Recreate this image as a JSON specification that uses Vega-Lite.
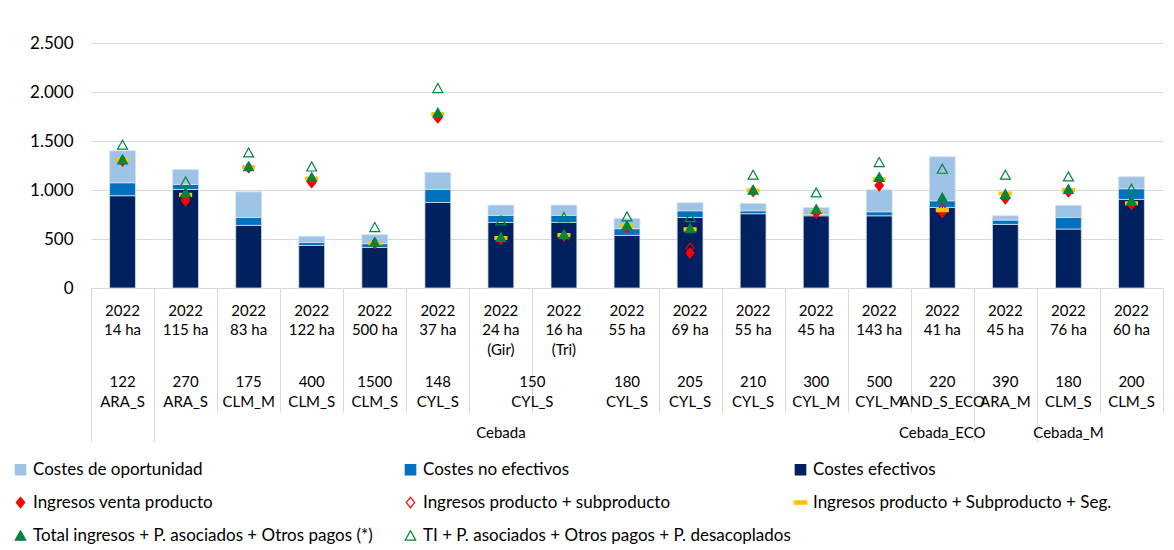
{
 "$schema": "https://vega.github.io/schema/vega-lite/v6.json",
 "width": 1072,
 "height": 245,
 "autosize": {"type": "none"},
 "padding": {"left": 91, "top": 43, "right": 11, "bottom": 262},
 "background": "white",
 "config": {
  "view": {"stroke": null},
  "axis": {"labelFont": "Lato", "labelColor": "#000000", "labelFontSize": 15, "titleFont": "Lato", "labelAngle": 0},
  "legend": {"orient": "none", "direction": "horizontal", "legendX": -79, "legendY": 418, "columns": 3, "gridAlign": "all", "columnPadding": 0, "rowPadding": 15, "labelFont": "Lato", "labelFontSize": 17, "labelColor": "#000000", "symbolSize": 110, "symbolStrokeWidth": 1.2, "labelOffset": 4, "padding": 0, "labelLimit": 500}
 },
 "datasets": {
  "costes": [
   {"cat": "2022|14 ha||122|ARA_S|Cebada", "serie": "Costes efectivos", "v": 942},
   {"cat": "2022|14 ha||122|ARA_S|Cebada", "serie": "Costes no efectivos", "v": 132},
   {"cat": "2022|14 ha||122|ARA_S|Cebada", "serie": "Costes de oportunidad", "v": 326},
   {"cat": "2022|115 ha||270|ARA_S|Cebada", "serie": "Costes efectivos", "v": 1006},
   {"cat": "2022|115 ha||270|ARA_S|Cebada", "serie": "Costes no efectivos", "v": 51},
   {"cat": "2022|115 ha||270|ARA_S|Cebada", "serie": "Costes de oportunidad", "v": 153},
   {"cat": "2022|83 ha||175|CLM_M|Cebada", "serie": "Costes efectivos", "v": 639},
   {"cat": "2022|83 ha||175|CLM_M|Cebada", "serie": "Costes no efectivos", "v": 81},
   {"cat": "2022|83 ha||175|CLM_M|Cebada", "serie": "Costes de oportunidad", "v": 262},
   {"cat": "2022|122 ha||400|CLM_S|Cebada", "serie": "Costes efectivos", "v": 435},
   {"cat": "2022|122 ha||400|CLM_S|Cebada", "serie": "Costes no efectivos", "v": 30},
   {"cat": "2022|122 ha||400|CLM_S|Cebada", "serie": "Costes de oportunidad", "v": 62},
   {"cat": "2022|500 ha||1500|CLM_S|Cebada", "serie": "Costes efectivos", "v": 414},
   {"cat": "2022|500 ha||1500|CLM_S|Cebada", "serie": "Costes no efectivos", "v": 38},
   {"cat": "2022|500 ha||1500|CLM_S|Cebada", "serie": "Costes de oportunidad", "v": 92},
   {"cat": "2022|37 ha||148|CYL_S|Cebada", "serie": "Costes efectivos", "v": 873},
   {"cat": "2022|37 ha||148|CYL_S|Cebada", "serie": "Costes no efectivos", "v": 133},
   {"cat": "2022|37 ha||148|CYL_S|Cebada", "serie": "Costes de oportunidad", "v": 174},
   {"cat": "2022|24 ha|(Gir)|150|CYL_S|Cebada", "serie": "Costes efectivos", "v": 669},
   {"cat": "2022|24 ha|(Gir)|150|CYL_S|Cebada", "serie": "Costes no efectivos", "v": 72},
   {"cat": "2022|24 ha|(Gir)|150|CYL_S|Cebada", "serie": "Costes de oportunidad", "v": 105},
   {"cat": "2022|16 ha|(Tri)|150|CYL_S|Cebada", "serie": "Costes efectivos", "v": 669},
   {"cat": "2022|16 ha|(Tri)|150|CYL_S|Cebada", "serie": "Costes no efectivos", "v": 72},
   {"cat": "2022|16 ha|(Tri)|150|CYL_S|Cebada", "serie": "Costes de oportunidad", "v": 105},
   {"cat": "2022|55 ha||180|CYL_S|Cebada", "serie": "Costes efectivos", "v": 537},
   {"cat": "2022|55 ha||180|CYL_S|Cebada", "serie": "Costes no efectivos", "v": 68},
   {"cat": "2022|55 ha||180|CYL_S|Cebada", "serie": "Costes de oportunidad", "v": 105},
   {"cat": "2022|69 ha||205|CYL_S|Cebada", "serie": "Costes efectivos", "v": 720},
   {"cat": "2022|69 ha||205|CYL_S|Cebada", "serie": "Costes no efectivos", "v": 68},
   {"cat": "2022|69 ha||205|CYL_S|Cebada", "serie": "Costes de oportunidad", "v": 82},
   {"cat": "2022|55 ha||210|CYL_S|Cebada", "serie": "Costes efectivos", "v": 758},
   {"cat": "2022|55 ha||210|CYL_S|Cebada", "serie": "Costes no efectivos", "v": 30},
   {"cat": "2022|55 ha||210|CYL_S|Cebada", "serie": "Costes de oportunidad", "v": 75},
   {"cat": "2022|45 ha||300|CYL_M|Cebada", "serie": "Costes efectivos", "v": 737},
   {"cat": "2022|45 ha||300|CYL_M|Cebada", "serie": "Costes no efectivos", "v": 11},
   {"cat": "2022|45 ha||300|CYL_M|Cebada", "serie": "Costes de oportunidad", "v": 74},
   {"cat": "2022|143 ha||500|CYL_M|Cebada", "serie": "Costes efectivos", "v": 737},
   {"cat": "2022|143 ha||500|CYL_M|Cebada", "serie": "Costes no efectivos", "v": 41},
   {"cat": "2022|143 ha||500|CYL_M|Cebada", "serie": "Costes de oportunidad", "v": 225},
   {"cat": "2022|41 ha||220|AND_S_ECO|Cebada_ECO", "serie": "Costes efectivos", "v": 822},
   {"cat": "2022|41 ha||220|AND_S_ECO|Cebada_ECO", "serie": "Costes no efectivos", "v": 68},
   {"cat": "2022|41 ha||220|AND_S_ECO|Cebada_ECO", "serie": "Costes de oportunidad", "v": 449},
   {"cat": "2022|45 ha||390|ARA_M|Cebada_M", "serie": "Costes efectivos", "v": 649},
   {"cat": "2022|45 ha||390|ARA_M|Cebada_M", "serie": "Costes no efectivos", "v": 44},
   {"cat": "2022|45 ha||390|ARA_M|Cebada_M", "serie": "Costes de oportunidad", "v": 44},
   {"cat": "2022|76 ha||180|CLM_S|Cebada_M", "serie": "Costes efectivos", "v": 602},
   {"cat": "2022|76 ha||180|CLM_S|Cebada_M", "serie": "Costes no efectivos", "v": 118},
   {"cat": "2022|76 ha||180|CLM_S|Cebada_M", "serie": "Costes de oportunidad", "v": 123},
   {"cat": "2022|60 ha||200|CLM_S|Cebada_M", "serie": "Costes efectivos", "v": 904},
   {"cat": "2022|60 ha||200|CLM_S|Cebada_M", "serie": "Costes no efectivos", "v": 109},
   {"cat": "2022|60 ha||200|CLM_S|Cebada_M", "serie": "Costes de oportunidad", "v": 122}
  ],
  "ingresos": [
   {"cat": "2022|14 ha||122|ARA_S|Cebada", "serie": "Ingresos venta producto", "v": 1295},
   {"cat": "2022|115 ha||270|ARA_S|Cebada", "serie": "Ingresos venta producto", "v": 890},
   {"cat": "2022|83 ha||175|CLM_M|Cebada", "serie": "Ingresos venta producto", "v": 1228},
   {"cat": "2022|122 ha||400|CLM_S|Cebada", "serie": "Ingresos venta producto", "v": 1075},
   {"cat": "2022|500 ha||1500|CLM_S|Cebada", "serie": "Ingresos venta producto", "v": 452},
   {"cat": "2022|37 ha||148|CYL_S|Cebada", "serie": "Ingresos venta producto", "v": 1735},
   {"cat": "2022|24 ha|(Gir)|150|CYL_S|Cebada", "serie": "Ingresos venta producto", "v": 497},
   {"cat": "2022|16 ha|(Tri)|150|CYL_S|Cebada", "serie": "Ingresos venta producto", "v": 530},
   {"cat": "2022|55 ha||180|CYL_S|Cebada", "serie": "Ingresos venta producto", "v": 615},
   {"cat": "2022|69 ha||205|CYL_S|Cebada", "serie": "Ingresos venta producto", "v": 357},
   {"cat": "2022|55 ha||210|CYL_S|Cebada", "serie": "Ingresos venta producto", "v": 985},
   {"cat": "2022|45 ha||300|CYL_M|Cebada", "serie": "Ingresos venta producto", "v": 765},
   {"cat": "2022|143 ha||500|CYL_M|Cebada", "serie": "Ingresos venta producto", "v": 1043},
   {"cat": "2022|41 ha||220|AND_S_ECO|Cebada_ECO", "serie": "Ingresos venta producto", "v": 770},
   {"cat": "2022|45 ha||390|ARA_M|Cebada_M", "serie": "Ingresos venta producto", "v": 910},
   {"cat": "2022|76 ha||180|CLM_S|Cebada_M", "serie": "Ingresos venta producto", "v": 980},
   {"cat": "2022|60 ha||200|CLM_S|Cebada_M", "serie": "Ingresos venta producto", "v": 853},
   {"cat": "2022|14 ha||122|ARA_S|Cebada", "serie": "Ingresos producto + subproducto", "v": 1300},
   {"cat": "2022|115 ha||270|ARA_S|Cebada", "serie": "Ingresos producto + subproducto", "v": 900},
   {"cat": "2022|83 ha||175|CLM_M|Cebada", "serie": "Ingresos producto + subproducto", "v": 1232},
   {"cat": "2022|122 ha||400|CLM_S|Cebada", "serie": "Ingresos producto + subproducto", "v": 1080},
   {"cat": "2022|500 ha||1500|CLM_S|Cebada", "serie": "Ingresos producto + subproducto", "v": 455},
   {"cat": "2022|37 ha||148|CYL_S|Cebada", "serie": "Ingresos producto + subproducto", "v": 1742},
   {"cat": "2022|24 ha|(Gir)|150|CYL_S|Cebada", "serie": "Ingresos producto + subproducto", "v": 500},
   {"cat": "2022|16 ha|(Tri)|150|CYL_S|Cebada", "serie": "Ingresos producto + subproducto", "v": 535},
   {"cat": "2022|55 ha||180|CYL_S|Cebada", "serie": "Ingresos producto + subproducto", "v": 620},
   {"cat": "2022|69 ha||205|CYL_S|Cebada", "serie": "Ingresos producto + subproducto", "v": 408},
   {"cat": "2022|55 ha||210|CYL_S|Cebada", "serie": "Ingresos producto + subproducto", "v": 990},
   {"cat": "2022|45 ha||300|CYL_M|Cebada", "serie": "Ingresos producto + subproducto", "v": 770},
   {"cat": "2022|143 ha||500|CYL_M|Cebada", "serie": "Ingresos producto + subproducto", "v": 1050},
   {"cat": "2022|41 ha||220|AND_S_ECO|Cebada_ECO", "serie": "Ingresos producto + subproducto", "v": 805},
   {"cat": "2022|45 ha||390|ARA_M|Cebada_M", "serie": "Ingresos producto + subproducto", "v": 915},
   {"cat": "2022|76 ha||180|CLM_S|Cebada_M", "serie": "Ingresos producto + subproducto", "v": 985},
   {"cat": "2022|60 ha||200|CLM_S|Cebada_M", "serie": "Ingresos producto + subproducto", "v": 858},
   {"cat": "2022|14 ha||122|ARA_S|Cebada", "serie": "Ingresos producto + Subproducto + Seg.", "v": 1305},
   {"cat": "2022|115 ha||270|ARA_S|Cebada", "serie": "Ingresos producto + Subproducto + Seg.", "v": 950},
   {"cat": "2022|83 ha||175|CLM_M|Cebada", "serie": "Ingresos producto + Subproducto + Seg.", "v": 1235},
   {"cat": "2022|122 ha||400|CLM_S|Cebada", "serie": "Ingresos producto + Subproducto + Seg.", "v": 1118},
   {"cat": "2022|500 ha||1500|CLM_S|Cebada", "serie": "Ingresos producto + Subproducto + Seg.", "v": 458},
   {"cat": "2022|37 ha||148|CYL_S|Cebada", "serie": "Ingresos producto + Subproducto + Seg.", "v": 1775},
   {"cat": "2022|24 ha|(Gir)|150|CYL_S|Cebada", "serie": "Ingresos producto + Subproducto + Seg.", "v": 510},
   {"cat": "2022|16 ha|(Tri)|150|CYL_S|Cebada", "serie": "Ingresos producto + Subproducto + Seg.", "v": 540},
   {"cat": "2022|55 ha||180|CYL_S|Cebada", "serie": "Ingresos producto + Subproducto + Seg.", "v": 630},
   {"cat": "2022|69 ha||205|CYL_S|Cebada", "serie": "Ingresos producto + Subproducto + Seg.", "v": 598},
   {"cat": "2022|55 ha||210|CYL_S|Cebada", "serie": "Ingresos producto + Subproducto + Seg.", "v": 995},
   {"cat": "2022|45 ha||300|CYL_M|Cebada", "serie": "Ingresos producto + Subproducto + Seg.", "v": 785},
   {"cat": "2022|143 ha||500|CYL_M|Cebada", "serie": "Ingresos producto + Subproducto + Seg.", "v": 1110},
   {"cat": "2022|41 ha||220|AND_S_ECO|Cebada_ECO", "serie": "Ingresos producto + Subproducto + Seg.", "v": 795},
   {"cat": "2022|45 ha||390|ARA_M|Cebada_M", "serie": "Ingresos producto + Subproducto + Seg.", "v": 965},
   {"cat": "2022|76 ha||180|CLM_S|Cebada_M", "serie": "Ingresos producto + Subproducto + Seg.", "v": 1000},
   {"cat": "2022|60 ha||200|CLM_S|Cebada_M", "serie": "Ingresos producto + Subproducto + Seg.", "v": 865},
   {"cat": "2022|14 ha||122|ARA_S|Cebada", "serie": "Total ingresos + P. asociados + Otros pagos (*)", "v": 1312},
   {"cat": "2022|115 ha||270|ARA_S|Cebada", "serie": "Total ingresos + P. asociados + Otros pagos (*)", "v": 975},
   {"cat": "2022|83 ha||175|CLM_M|Cebada", "serie": "Total ingresos + P. asociados + Otros pagos (*)", "v": 1242},
   {"cat": "2022|122 ha||400|CLM_S|Cebada", "serie": "Total ingresos + P. asociados + Otros pagos (*)", "v": 1132},
   {"cat": "2022|500 ha||1500|CLM_S|Cebada", "serie": "Total ingresos + P. asociados + Otros pagos (*)", "v": 470},
   {"cat": "2022|37 ha||148|CYL_S|Cebada", "serie": "Total ingresos + P. asociados + Otros pagos (*)", "v": 1790},
   {"cat": "2022|24 ha|(Gir)|150|CYL_S|Cebada", "serie": "Total ingresos + P. asociados + Otros pagos (*)", "v": 520},
   {"cat": "2022|16 ha|(Tri)|150|CYL_S|Cebada", "serie": "Total ingresos + P. asociados + Otros pagos (*)", "v": 550},
   {"cat": "2022|55 ha||180|CYL_S|Cebada", "serie": "Total ingresos + P. asociados + Otros pagos (*)", "v": 640},
   {"cat": "2022|69 ha||205|CYL_S|Cebada", "serie": "Total ingresos + P. asociados + Otros pagos (*)", "v": 610},
   {"cat": "2022|55 ha||210|CYL_S|Cebada", "serie": "Total ingresos + P. asociados + Otros pagos (*)", "v": 1003},
   {"cat": "2022|45 ha||300|CYL_M|Cebada", "serie": "Total ingresos + P. asociados + Otros pagos (*)", "v": 806},
   {"cat": "2022|143 ha||500|CYL_M|Cebada", "serie": "Total ingresos + P. asociados + Otros pagos (*)", "v": 1132},
   {"cat": "2022|41 ha||220|AND_S_ECO|Cebada_ECO", "serie": "Total ingresos + P. asociados + Otros pagos (*)", "v": 924},
   {"cat": "2022|45 ha||390|ARA_M|Cebada_M", "serie": "Total ingresos + P. asociados + Otros pagos (*)", "v": 960},
   {"cat": "2022|76 ha||180|CLM_S|Cebada_M", "serie": "Total ingresos + P. asociados + Otros pagos (*)", "v": 1010},
   {"cat": "2022|60 ha||200|CLM_S|Cebada_M", "serie": "Total ingresos + P. asociados + Otros pagos (*)", "v": 890},
   {"cat": "2022|14 ha||122|ARA_S|Cebada", "serie": "TI + P. asociados + Otros pagos + P. desacoplados", "v": 1462},
   {"cat": "2022|115 ha||270|ARA_S|Cebada", "serie": "TI + P. asociados + Otros pagos + P. desacoplados", "v": 1088},
   {"cat": "2022|83 ha||175|CLM_M|Cebada", "serie": "TI + P. asociados + Otros pagos + P. desacoplados", "v": 1383},
   {"cat": "2022|122 ha||400|CLM_S|Cebada", "serie": "TI + P. asociados + Otros pagos + P. desacoplados", "v": 1240},
   {"cat": "2022|500 ha||1500|CLM_S|Cebada", "serie": "TI + P. asociados + Otros pagos + P. desacoplados", "v": 622},
   {"cat": "2022|37 ha||148|CYL_S|Cebada", "serie": "TI + P. asociados + Otros pagos + P. desacoplados", "v": 2040},
   {"cat": "2022|24 ha|(Gir)|150|CYL_S|Cebada", "serie": "TI + P. asociados + Otros pagos + P. desacoplados", "v": 690},
   {"cat": "2022|16 ha|(Tri)|150|CYL_S|Cebada", "serie": "TI + P. asociados + Otros pagos + P. desacoplados", "v": 724},
   {"cat": "2022|55 ha||180|CYL_S|Cebada", "serie": "TI + P. asociados + Otros pagos + P. desacoplados", "v": 731},
   {"cat": "2022|69 ha||205|CYL_S|Cebada", "serie": "TI + P. asociados + Otros pagos + P. desacoplados", "v": 724},
   {"cat": "2022|55 ha||210|CYL_S|Cebada", "serie": "TI + P. asociados + Otros pagos + P. desacoplados", "v": 1156},
   {"cat": "2022|45 ha||300|CYL_M|Cebada", "serie": "TI + P. asociados + Otros pagos + P. desacoplados", "v": 975},
   {"cat": "2022|143 ha||500|CYL_M|Cebada", "serie": "TI + P. asociados + Otros pagos + P. desacoplados", "v": 1285},
   {"cat": "2022|41 ha||220|AND_S_ECO|Cebada_ECO", "serie": "TI + P. asociados + Otros pagos + P. desacoplados", "v": 1217},
   {"cat": "2022|45 ha||390|ARA_M|Cebada_M", "serie": "TI + P. asociados + Otros pagos + P. desacoplados", "v": 1156},
   {"cat": "2022|76 ha||180|CLM_S|Cebada_M", "serie": "TI + P. asociados + Otros pagos + P. desacoplados", "v": 1139},
   {"cat": "2022|60 ha||200|CLM_S|Cebada_M", "serie": "TI + P. asociados + Otros pagos + P. desacoplados", "v": 1013}
  ]
 },
 "layer": [
  {
   "data": {"name": "costes"},
   "transform": [{"calculate": "indexof(['Costes efectivos','Costes no efectivos','Costes de oportunidad'], datum.serie)", "as": "orden"}],
   "mark": {"type": "bar", "width": {"band": 0.41}, "stroke": "#d6e0ee", "strokeWidth": 0.8},
   "encoding": {
    "x": {"field": "cat", "type": "nominal", "sort": null, "title": null, "scale": {"paddingInner": 0, "paddingOuter": 0},
     "axis": {"orient": "bottom", "labels": false, "ticks": true, "tickBand": "extent", "domain": true, "domainColor": "#d9d9d9", "domainWidth": 1, "tickColor": "#d9d9d9", "tickWidth": 1, "grid": false, "title": null,
      "tickSize": {"condition": {"test": "datum.extra || indexof(''+datum.value,'|14 ha||')>=0 || indexof(''+datum.value,'|41 ha||')>=0 || indexof(''+datum.value,'|45 ha||390|')>=0", "value": 154}, "value": 124},
      "tickOpacity": {"condition": {"test": "indexof(''+datum.value,'(Tri)')>=0", "value": 0}, "value": 1}}},
    "y": {"field": "v", "type": "quantitative", "stack": "zero", "title": null, "scale": {"domain": [0, 2500], "nice": false},
     "axis": {"values": [0, 500, 1000, 1500, 2000, 2500], "domain": false, "ticks": false, "labelPadding": 18, "grid": true, "gridColor": "#d9d9d9", "gridWidth": 1, "labelFontSize": 17, "labelExpr": "replace(format(datum.value, ','), ',', '.')", "title": null}},
    "fill": {"field": "serie", "type": "nominal", "legend": {"title": null},
     "scale": {"domain": ["Costes de oportunidad", "Costes no efectivos", "Costes efectivos", "Ingresos venta producto", "Ingresos producto + subproducto", "Ingresos producto + Subproducto + Seg.", "Total ingresos + P. asociados + Otros pagos (*)", "TI + P. asociados + Otros pagos + P. desacoplados"],
      "range": ["#9dc3e6", "#0070c0", "#002060", "#ff0000", "transparent", "#ffc000", "#00853f", "transparent"]}},
    "order": {"field": "orden", "type": "quantitative"}
   }
  },
  {
   "data": {"name": "ingresos"},
   "transform": [{"filter": {"field": "serie", "oneOf": ["Ingresos venta producto", "Ingresos producto + subproducto"]}}],
   "mark": {"type": "point", "filled": true, "opacity": 1, "size": 100, "strokeWidth": 1.1},
   "encoding": {
    "x": {"field": "cat", "type": "nominal", "sort": null, "title": null,
     "axis": {"orient": "bottom", "domain": false, "ticks": false, "tickSize": 0, "grid": false, "title": null, "labelPadding": 15, "labelLineHeight": 19.5, "labelOverlap": false, "labelBound": false, "labelFlush": false,
      "labelExpr": "[split(''+datum.value,'|')[0], split(''+datum.value,'|')[1], split(''+datum.value,'|')[2]]"}},
    "y": {"field": "v", "type": "quantitative", "stack": null, "title": null},
    "fill": {"field": "serie", "type": "nominal", "legend": {"title": null}},
    "stroke": {"field": "serie", "type": "nominal", "legend": {"title": null},
     "scale": {"domain": ["Costes de oportunidad", "Costes no efectivos", "Costes efectivos", "Ingresos venta producto", "Ingresos producto + subproducto", "Ingresos producto + Subproducto + Seg.", "Total ingresos + P. asociados + Otros pagos (*)", "TI + P. asociados + Otros pagos + P. desacoplados"],
      "range": ["#9dc3e6", "#0070c0", "#002060", "#ff0000", "#ff0000", "#ffc000", "#00853f", "#00853f"]}},
    "shape": {"field": "serie", "type": "nominal", "legend": {"title": null},
     "scale": {"domain": ["Costes de oportunidad", "Costes no efectivos", "Costes efectivos", "Ingresos venta producto", "Ingresos producto + subproducto", "Ingresos producto + Subproducto + Seg.", "Total ingresos + P. asociados + Otros pagos (*)", "TI + P. asociados + Otros pagos + P. desacoplados"],
      "range": ["square", "square", "square", "M0,-1L0.8,0L0,1L-0.8,0Z", "M0,-1L0.8,0L0,1L-0.8,0Z", "M-1.2,-0.3L1.2,-0.3L1.2,0.3L-1.2,0.3Z", "M0,-0.9L1,0.9L-1,0.9Z", "M0,-0.9L1,0.9L-1,0.9Z"]}}
   }
  },
  {
   "data": {"name": "ingresos"},
   "transform": [{"filter": {"field": "serie", "oneOf": ["Ingresos producto + Subproducto + Seg.", "Total ingresos + P. asociados + Otros pagos (*)"]}}],
   "mark": {"type": "point", "filled": true, "opacity": 1, "size": 100, "strokeWidth": 1.1},
   "encoding": {
    "x": {"field": "cat", "type": "nominal", "sort": null, "title": null,
     "axis": {"orient": "bottom", "domain": false, "ticks": false, "tickSize": 0, "grid": false, "title": null, "labelPadding": 86, "labelLineHeight": 20, "labelOverlap": false, "labelBound": false, "labelFlush": false,
      "labelExpr": "indexof(''+datum.value,'(Tri)') >= 0 ? '' : [split(''+datum.value,'|')[3], split(''+datum.value,'|')[4]]",
      "labelOffset": {"condition": {"test": "indexof(''+datum.value,'(Gir)')>=0", "value": 31.5}, "value": 0}}},
    "y": {"field": "v", "type": "quantitative", "stack": null, "title": null},
    "fill": {"field": "serie", "type": "nominal", "legend": {"title": null}},
    "stroke": {"field": "serie", "type": "nominal", "legend": {"title": null}},
    "shape": {"field": "serie", "type": "nominal", "legend": {"title": null}}
   }
  },
  {
   "data": {"name": "ingresos"},
   "transform": [{"filter": {"field": "serie", "oneOf": ["TI + P. asociados + Otros pagos + P. desacoplados"]}}],
   "mark": {"type": "point", "filled": true, "opacity": 1, "size": 100, "strokeWidth": 1.2},
   "encoding": {
    "x": {"field": "cat", "type": "nominal", "sort": null, "title": null,
     "axis": {"orient": "bottom", "domain": false, "ticks": false, "tickSize": 0, "grid": false, "title": null, "labelPadding": 137, "labelOverlap": false, "labelBound": false, "labelFlush": false,
      "labelExpr": "(indexof(''+datum.value,'|24 ha|')>=0 || indexof(''+datum.value,'|41 ha|')>=0 || indexof(''+datum.value,'|76 ha|')>=0) ? split(''+datum.value,'|')[5] : ''"}},
    "y": {"field": "v", "type": "quantitative", "stack": null, "title": null},
    "fill": {"field": "serie", "type": "nominal", "legend": {"title": null}},
    "stroke": {"field": "serie", "type": "nominal", "legend": {"title": null}},
    "shape": {"field": "serie", "type": "nominal", "legend": {"title": null}}
   }
  }
 ],
 "resolve": {"axis": {"x": "independent"}}
}
